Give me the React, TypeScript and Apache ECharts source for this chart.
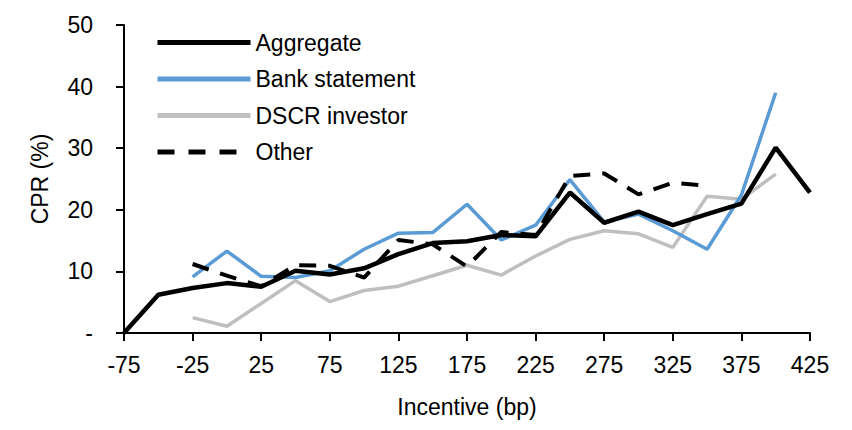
import React, { useEffect, useRef } from "react";
import * as echarts from "echarts";

const categories = ["-75","-50","-25","0","25","50","75","100","125","150","175","200","225","250","275","300","325","350","375","400","425"];
const aggregate = [0, 6.2, 7.3, 8.1, 7.5, 10.1, 9.5, 10.5, 12.8, 14.6, 14.9, 15.9, 15.7, 22.8, 17.9, 19.7, 17.5, 19.3, 21.0, 30.1, 22.8];
const bankStatement = [null, null, 9.1, 13.3, 9.2, 9.0, 10.1, 13.6, 16.2, 16.3, 20.9, 15.1, 17.5, 24.9, 18.0, 19.3, 16.6, 13.6, 22.4, 39.0, null];
const dscrInvestor = [null, null, 2.5, 1.1, 4.8, 8.5, 5.1, 6.9, 7.6, 9.3, 11.0, 9.4, 12.5, 15.2, 16.6, 16.1, 13.9, 22.2, 21.7, 25.8, null];
const other = [null, null, 11.2, 9.3, 7.6, 11.0, 10.9, 9.0, 15.1, 14.4, 10.8, 16.4, 15.9, 25.5, 25.9, 22.5, 24.4, 23.9, null, null, null];
const yTicks = [0, 10, 20, 30, 40, 50];

const FONT = "'Liberation Sans Narrow', 'Liberation Sans', Arial, sans-serif";
const BLUE = "#5B9BD5";
const GRAY = "#BFBFBF";

export default function App() {
  const ref = useRef<HTMLDivElement>(null);
  useEffect(() => {
    if (!ref.current) return;
    const chart = echarts.init(ref.current, null, { renderer: "svg" });
    const textStyle = { fontFamily: FONT, fontSize: 23, color: "#000" };
    chart.setOption({
      animation: false,
      textStyle,
      grid: { left: 124, right: 42, top: 25, bottom: 97 },
      legend: {
        orient: "vertical",
        left: 150,
        top: 26,
        padding: 5,
        itemWidth: 93,
        itemHeight: 20,
        itemGap: 13.5,
        itemStyle: { opacity: 0 },
        textStyle: { ...textStyle, lineHeight: 20, padding: [0, 0, 0, 0] },
        data: [
          { name: "Aggregate", lineStyle: { color: "#000", width: 5 } },
          { name: "Bank statement", lineStyle: { color: BLUE, width: 5 } },
          { name: "DSCR investor", lineStyle: { color: GRAY, width: 5 } },
          { name: "Other", lineStyle: { color: "#000", width: 5, type: [17, 14] } },
        ],
      },
      xAxis: {
        type: "category",
        data: categories,
        boundaryGap: false,
        name: "Incentive (bp)",
        nameLocation: "middle",
        nameGap: 62,
        nameTextStyle: textStyle,
        axisLine: { lineStyle: { color: "#000", width: 2 } },
        axisTick: { interval: 1, length: 8, lineStyle: { color: "#000", width: 2 } },
        axisLabel: { interval: 1, ...textStyle, margin: 20 },
        splitLine: { show: false },
      },
      yAxis: {
        type: "value",
        min: yTicks[0],
        max: yTicks[yTicks.length - 1],
        interval: 10,
        name: "CPR (%)",
        nameLocation: "middle",
        nameGap: 73,
        nameTextStyle: textStyle,
        axisLine: { show: true, lineStyle: { color: "#000", width: 2 } },
        axisTick: { show: true, length: 8, lineStyle: { color: "#000", width: 2 } },
        axisLabel: { ...textStyle, margin: 31, formatter: (v: number) => (v === 0 ? "-" : String(v)) },
        splitLine: { show: false },
      },
      series: [
        { name: "Aggregate", type: "line", data: aggregate, symbol: "none", lineStyle: { color: "#000", width: 4.5 }, itemStyle: { color: "#000" }, z: 5 },
        { name: "Bank statement", type: "line", data: bankStatement, symbol: "none", lineStyle: { color: BLUE, width: 3.5 }, itemStyle: { color: BLUE }, z: 4 },
        { name: "DSCR investor", type: "line", data: dscrInvestor, symbol: "none", lineStyle: { color: GRAY, width: 3.5 }, itemStyle: { color: GRAY }, z: 3 },
        { name: "Other", type: "line", data: other, symbol: "none", lineStyle: { color: "#000", width: 4, type: [17, 12] }, itemStyle: { color: "#000" }, z: 6 },
      ],
    });
    return () => chart.dispose();
  }, []);
  return <div ref={ref} style={{ position: "absolute", left: 0, top: 0, width: 852, height: 430 }} />;
}
